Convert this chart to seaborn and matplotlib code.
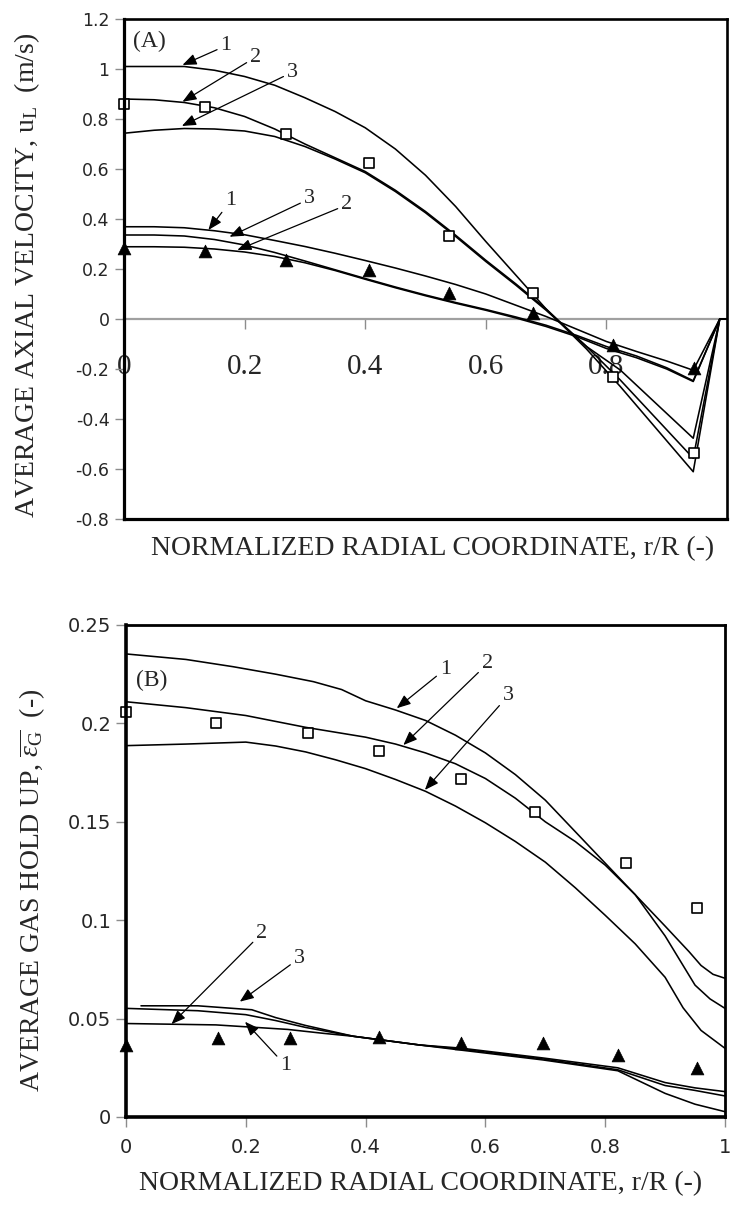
import numpy as np
import pandas as pd
import matplotlib
matplotlib.use("Agg")
import matplotlib.pyplot as plt
import seaborn as sns

# ---------------- Panel A : average axial velocity ----------------
a_c1_x = [0.0, 0.10, 0.15, 0.20, 0.25, 0.30, 0.35, 0.40, 0.45, 0.50, 0.55, 0.60, 0.65, 0.70, 0.767, 0.823, 0.944, 0.988, 1.0]
a_c1_y = [1.01, 1.01, 0.995, 0.97, 0.935, 0.885, 0.83, 0.765, 0.68, 0.575, 0.45, 0.31, 0.175, 0.04, -0.12, -0.27, -0.611, 0.0, 0.0]
a_c2_x = [0.0, 0.05, 0.10, 0.15, 0.20, 0.25, 0.30, 0.35, 0.40, 0.45, 0.50, 0.55, 0.60, 0.65, 0.70, 0.767, 0.823, 0.944, 0.988, 1.0]
a_c2_y = [0.88, 0.877, 0.866, 0.845, 0.81, 0.76, 0.70, 0.645, 0.59, 0.515, 0.43, 0.335, 0.235, 0.14, 0.04, -0.11, -0.244, -0.557, 0.0, 0.0]
a_c3_x = [0.0, 0.05, 0.10, 0.15, 0.20, 0.25, 0.30, 0.35, 0.40, 0.45, 0.50, 0.55, 0.60, 0.65, 0.70, 0.767, 0.823, 0.944, 0.988, 1.0]
a_c3_y = [0.743, 0.755, 0.762, 0.76, 0.752, 0.73, 0.69, 0.64, 0.585, 0.51, 0.425, 0.33, 0.23, 0.135, 0.035, -0.11, -0.204, -0.477, 0.0, 0.0]

a_l1_x = [0.0, 0.05, 0.10, 0.15, 0.20, 0.25, 0.30, 0.35, 0.40, 0.45, 0.50, 0.55, 0.60, 0.65, 0.70, 0.75, 0.80, 0.85, 0.90, 0.944, 0.988, 1.0]
a_l1_y = [0.369, 0.369, 0.365, 0.353, 0.337, 0.314, 0.29, 0.263, 0.234, 0.204, 0.172, 0.138, 0.10, 0.055, 0.01, -0.04, -0.09, -0.13, -0.168, -0.205, 0.0, 0.0]
a_l3_x = [0.0, 0.05, 0.10, 0.15, 0.20, 0.25, 0.30, 0.35, 0.40, 0.45, 0.50, 0.55, 0.60, 0.65, 0.70, 0.75, 0.80, 0.85, 0.90, 0.944, 0.988, 1.0]
a_l3_y = [0.336, 0.336, 0.332, 0.318, 0.296, 0.266, 0.232, 0.197, 0.162, 0.128, 0.096, 0.066, 0.038, 0.008, -0.025, -0.065, -0.11, -0.148, -0.195, -0.247, 0.0, 0.0]
a_l2_x = [0.0, 0.05, 0.10, 0.15, 0.20, 0.25, 0.30, 0.35, 0.40, 0.45, 0.50, 0.55, 0.60, 0.65, 0.70, 0.75, 0.80, 0.85, 0.90, 0.944, 0.988, 1.0]
a_l2_y = [0.289, 0.289, 0.287, 0.28, 0.268, 0.25, 0.225, 0.194, 0.159, 0.125, 0.093, 0.063, 0.035, 0.004, -0.03, -0.07, -0.118, -0.155, -0.2, -0.25, 0.0, 0.0]

a_exp_x = [0.0, 0.135, 0.268, 0.406, 0.539, 0.678, 0.811, 0.945]
a_exp_hi = [0.859, 0.847, 0.74, 0.624, 0.33, 0.104, -0.233, -0.535]
a_exp_lo = [0.285, 0.273, 0.236, 0.194, 0.104, 0.025, -0.103, -0.195]

a_yticks = [-0.8, -0.6, -0.4, -0.2, 0.0, 0.2, 0.4, 0.6, 0.8, 1.0, 1.2]
a_ylabels = ["-0.8", "-0.6", "-0.4", "-0.2", "0", "0.2", "0.4", "0.6", "0.8", "1", "1.2"]
a_xticks = [0.0, 0.2, 0.4, 0.6, 0.8]
a_xlabels = ["0", "0.2", "0.4", "0.6", "0.8"]

# ---------------- Panel B : average gas hold up ----------------
b_c1_x = [0.0, 0.10, 0.179, 0.25, 0.313, 0.36, 0.40, 0.45, 0.50, 0.55, 0.60, 0.65, 0.70, 0.75, 0.80, 0.85, 0.90, 0.94, 0.96, 0.98, 1.0]
b_c1_y = [0.2353, 0.2325, 0.2288, 0.225, 0.2212, 0.2172, 0.2115, 0.2068, 0.2015, 0.194, 0.185, 0.174, 0.161, 0.145, 0.129, 0.113, 0.097, 0.084, 0.077, 0.0725, 0.0705]
b_c2_x = [0.0, 0.10, 0.20, 0.30, 0.40, 0.45, 0.50, 0.55, 0.60, 0.65, 0.70, 0.75, 0.80, 0.85, 0.90, 0.93, 0.95, 0.975, 1.0]
b_c2_y = [0.211, 0.208, 0.204, 0.198, 0.193, 0.1895, 0.185, 0.1795, 0.172, 0.162, 0.150, 0.14, 0.128, 0.113, 0.092, 0.077, 0.067, 0.060, 0.0552]
b_c3_x = [0.0, 0.10, 0.20, 0.25, 0.30, 0.35, 0.40, 0.45, 0.50, 0.55, 0.60, 0.65, 0.70, 0.75, 0.80, 0.85, 0.90, 0.93, 0.96, 1.0]
b_c3_y = [0.1887, 0.1895, 0.1905, 0.1885, 0.1855, 0.1815, 0.177, 0.1715, 0.1655, 0.158, 0.1495, 0.140, 0.1295, 0.1165, 0.1025, 0.088, 0.071, 0.0555, 0.044, 0.0349]

b_l3_x = [0.025, 0.12, 0.21, 0.25, 0.30, 0.38, 0.49, 0.559, 0.696, 0.821, 0.90, 0.95, 1.0]
b_l3_y = [0.0565, 0.0565, 0.0545, 0.0505, 0.0465, 0.041, 0.0366, 0.035, 0.030, 0.025, 0.0175, 0.0148, 0.0129]
b_l2_x = [0.0, 0.12, 0.20, 0.25, 0.30, 0.38, 0.49, 0.559, 0.696, 0.821, 0.90, 0.95, 1.0]
b_l2_y = [0.0552, 0.054, 0.052, 0.049, 0.0455, 0.041, 0.0366, 0.0345, 0.0295, 0.024, 0.016, 0.0135, 0.0107]
b_l1_x = [0.0, 0.15, 0.27, 0.33, 0.38, 0.49, 0.559, 0.696, 0.821, 0.90, 0.95, 1.0]
b_l1_y = [0.0475, 0.0468, 0.0445, 0.0425, 0.041, 0.0366, 0.034, 0.029, 0.0235, 0.012, 0.0065, 0.0027]

b_exp_hi_x = [0.0, 0.151, 0.304, 0.423, 0.559, 0.682, 0.835, 0.953]
b_exp_hi = [0.206, 0.200, 0.195, 0.186, 0.172, 0.155, 0.129, 0.106]
b_exp_lo_x = [0.0, 0.154, 0.274, 0.423, 0.559, 0.696, 0.821, 0.953]
b_exp_lo = [0.0366, 0.040, 0.040, 0.0409, 0.0375, 0.0375, 0.0315, 0.0250]

b_yticks = [0.0, 0.05, 0.10, 0.15, 0.20, 0.25]
b_ylabels = ["0", "0.05", "0.1", "0.15", "0.2", "0.25"]
b_xticks = [0.0, 0.2, 0.4, 0.6, 0.8, 1.0]
b_xlabels = ["0", "0.2", "0.4", "0.6", "0.8", "1"]

# ---------------- style ----------------
sns.set_theme(style="white")
SERIF = ["Liberation Serif", "DejaVu Serif"]
SANS = ["DejaVu Sans"]
plt.rcParams["font.family"] = SERIF
plt.rcParams["mathtext.fontset"] = "custom"
plt.rcParams["mathtext.rm"] = "Liberation Serif"
plt.rcParams["mathtext.it"] = "Liberation Serif:italic"
plt.rcParams["mathtext.bf"] = "Liberation Serif:bold"
plt.rcParams["axes.edgecolor"] = "black"

TICK_GRAY = "#8c8c8c"
LW = 1.15

fig = plt.figure(figsize=(7.32, 12.07), dpi=100)
W, H = 732.0, 1207.0
axA = fig.add_axes([124 / W, 1 - 519 / H, 603 / W, 500 / H])
axB = fig.add_axes([126 / W, 1 - 1117 / H, 599 / W, 492 / H])


def curves(ax, pairs):
    for xs, ys in pairs:
        sns.lineplot(x=xs, y=ys, ax=ax, color="black", linewidth=LW,
                     estimator=None, sort=False, zorder=2)


def squares(ax, xs, ys):
    sns.scatterplot(x=xs, y=ys, ax=ax, marker="s", s=50, facecolor="white",
                    edgecolor="black", linewidth=1.2, zorder=4, clip_on=False)


def triangles(ax, xs, ys):
    sns.scatterplot(x=xs, y=ys, ax=ax, marker="^", s=85, facecolor="black",
                    edgecolor="black", linewidth=0.5, zorder=4, clip_on=False)


def frame(ax, left_lw=2.3, other_lw=1.9):
    for side, sp in ax.spines.items():
        sp.set_visible(True)
        sp.set_color("black")
        sp.set_linewidth(left_lw if side in ("left", "bottom") else other_lw)
        sp.set_zorder(5)


ARROW = dict(arrowstyle="-|>,head_length=0.6,head_width=0.24", color="black",
             lw=0.9, mutation_scale=14, shrinkA=0, shrinkB=0)


def note(ax, txt, tip, pos, size=16):
    ax.annotate(txt, xy=tip, xytext=pos, ha="center", va="center",
                fontsize=size, family=SERIF, arrowprops=ARROW, zorder=6)


# ---------------- Panel A ----------------
curves(axA, [(a_c1_x, a_c1_y), (a_c2_x, a_c2_y), (a_c3_x, a_c3_y),
             (a_l1_x, a_l1_y), (a_l3_x, a_l3_y), (a_l2_x, a_l2_y)])
squares(axA, a_exp_x, a_exp_hi)
triangles(axA, a_exp_x, a_exp_lo)

axA.set_xlim(0, 1)
axA.set_ylim(-0.8, 1.2)
frame(axA)
axA.tick_params(axis="x", bottom=False, labelbottom=False, top=False)
axA.set_yticks(a_yticks, labels=a_ylabels, fontsize=12.5, fontfamily=SANS)
axA.tick_params(axis="y", left=True, direction="out", length=6.5, width=1.0,
                color=TICK_GRAY, pad=4)

secA = axA.secondary_xaxis(0, transform=axA.transData)
secA.set_xticks(a_xticks, labels=a_xlabels, fontsize=21, fontfamily=SERIF)
secA.tick_params(axis="x", direction="out", length=7, width=1.0,
                 color=TICK_GRAY, pad=18)
secA.spines["bottom"].set_color("#a0a0a0")
secA.spines["bottom"].set_linewidth(1.6)

axA.set_xlabel("NORMALIZED RADIAL COORDINATE, r/R (-)", fontsize=20, va="center")
axA.xaxis.set_label_coords(0.512, -0.06)
axA.set_ylabel(r"AVERAGE AXIAL VELOCITY, u$_\mathregular{L}$  (m/s)",
               fontsize=20, va="center")
axA.yaxis.set_label_coords(-0.161, 0.488)

axA.text(0.042, 1.109, "(A)", fontsize=17, ha="center", va="center", family=SERIF)
note(axA, "1", (0.097, 1.016), (0.169, 1.093))
note(axA, "2", (0.097, 0.869), (0.218, 1.047))
note(axA, "3", (0.096, 0.772), (0.279, 0.987))
note(axA, "1", (0.140, 0.356), (0.177, 0.473))
note(axA, "3", (0.175, 0.329), (0.307, 0.480))
note(axA, "2", (0.188, 0.276), (0.369, 0.456))

# ---------------- Panel B ----------------
curves(axB, [(b_c1_x, b_c1_y), (b_c2_x, b_c2_y), (b_c3_x, b_c3_y),
             (b_l3_x, b_l3_y), (b_l2_x, b_l2_y), (b_l1_x, b_l1_y)])
squares(axB, b_exp_hi_x, b_exp_hi)
triangles(axB, b_exp_lo_x, b_exp_lo)

axB.set_xlim(0, 1)
axB.set_ylim(0, 0.25)
frame(axB, left_lw=2.6, other_lw=2.0)
axB.set_xticks(b_xticks, labels=b_xlabels, fontsize=14, fontfamily=SANS)
axB.set_yticks(b_yticks, labels=b_ylabels, fontsize=14, fontfamily=SANS)
axB.tick_params(axis="x", bottom=True, direction="out", length=7, width=1.0,
                color=TICK_GRAY, pad=8)
axB.tick_params(axis="y", left=True, direction="out", length=7, width=1.0,
                color=TICK_GRAY, pad=3.5)

axB.set_xlabel("NORMALIZED RADIAL COORDINATE, r/R (-)", fontsize=20, va="center")
axB.xaxis.set_label_coords(0.491, -0.136)
axB.set_ylabel(r"AVERAGE GAS HOLD UP, $\overline{\epsilon_\mathregular{G}}$  (-)",
               fontsize=20, va="center")
axB.yaxis.set_label_coords(-0.157, 0.46)

axB.text(0.0434, 0.2217, "(B)", fontsize=17, ha="center", va="center", family=SERIF)
note(axB, "1", (0.452, 0.2077), (0.533, 0.2276))
note(axB, "2", (0.463, 0.1890), (0.603, 0.2302))
note(axB, "3", (0.499, 0.1662), (0.638, 0.2141))
note(axB, "2", (0.076, 0.0472), (0.2265, 0.0933))
note(axB, "3", (0.190, 0.0586), (0.289, 0.0806))
note(axB, "1", (0.1987, 0.0484), (0.2666, 0.0261))

fig.savefig("out.png", dpi=100, facecolor="white")
